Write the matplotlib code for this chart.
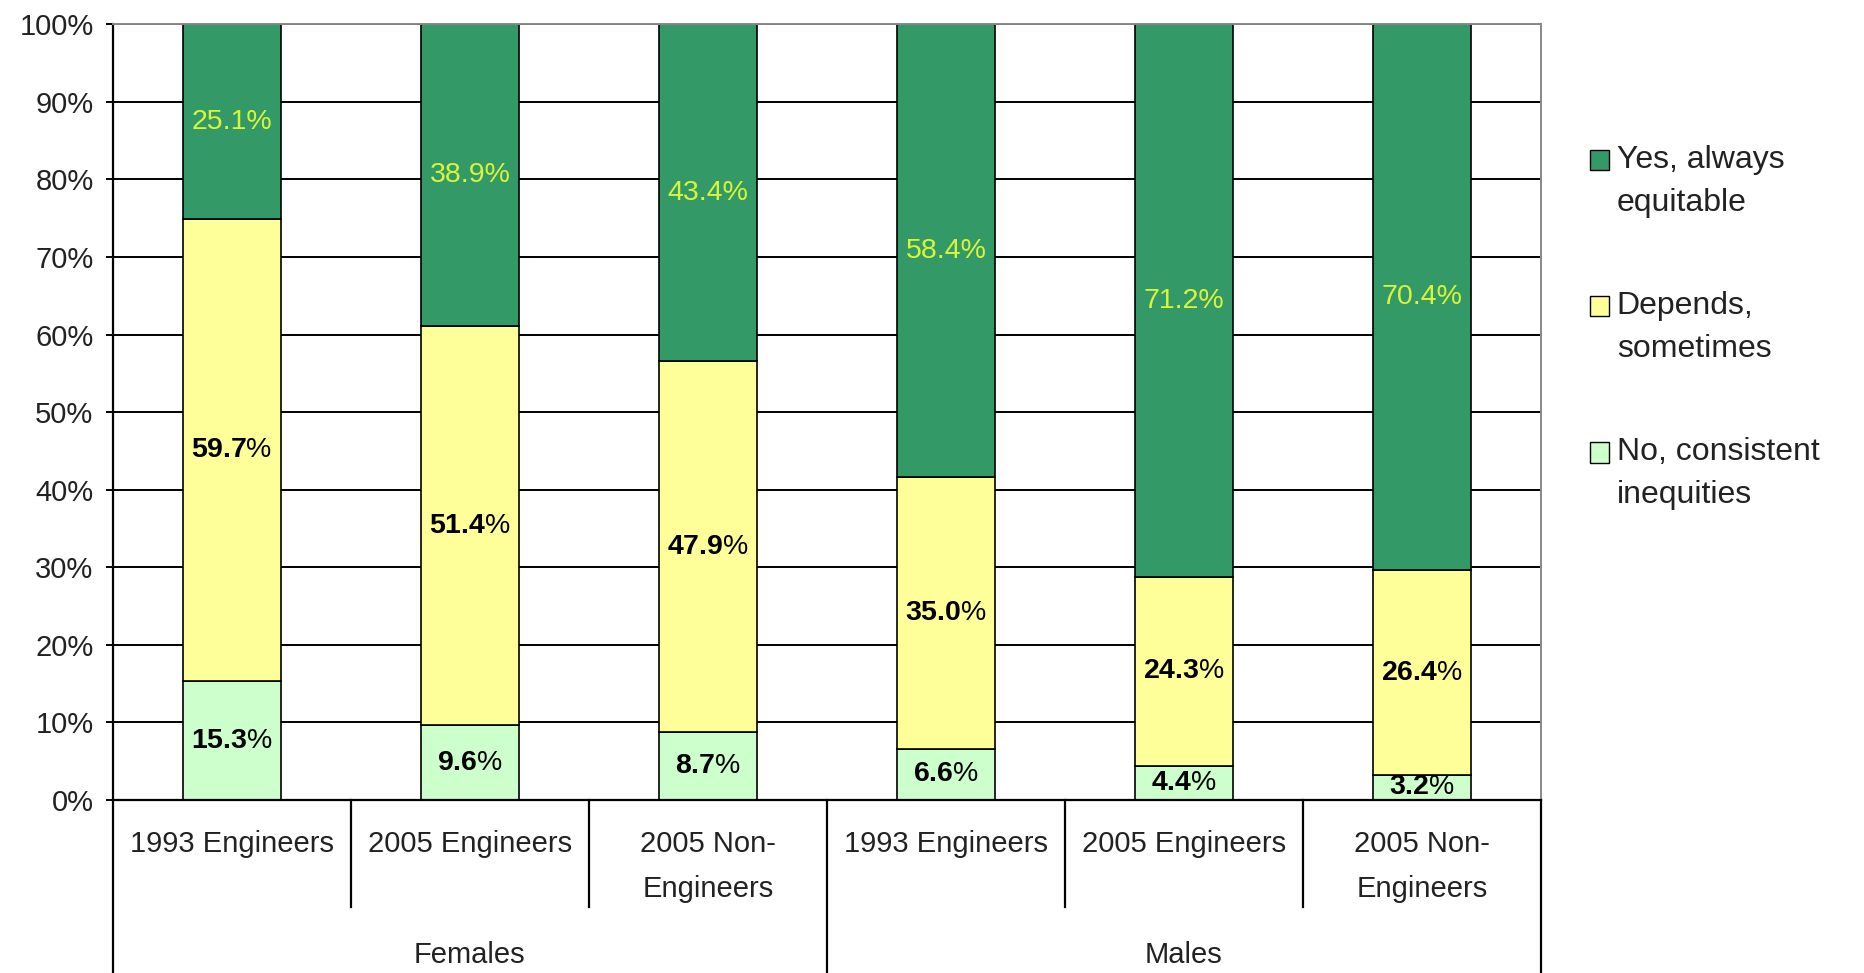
import numpy as np
import matplotlib.pyplot as plt
from matplotlib.patches import Patch, Rectangle
from matplotlib.legend_handler import HandlerPatch
from matplotlib.transforms import blended_transform_factory

plt.rcParams['font.family'] = ['Liberation Sans', 'DejaVu Sans']
plt.rcParams['mathtext.fontset'] = 'custom'
plt.rcParams['mathtext.rm'] = 'Liberation Sans'
plt.rcParams['mathtext.bf'] = 'Liberation Sans:bold'

# data
groups = ['Females', 'Males']
cats = ['1993 Engineers', '2005 Engineers', '2005 Non-\nEngineers']
no_ineq = [15.3, 9.6, 8.7, 6.6, 4.4, 3.2]
depends = [59.7, 51.4, 47.9, 35.0, 24.3, 26.4]
yes_eq = [25.1, 38.9, 43.4, 58.4, 71.2, 70.4]
series_names = ['Yes, always\nequitable', 'Depends,\nsometimes', 'No, consistent\ninequities']

c_yes = '#339966'
c_dep = '#FFFF99'
c_no = '#CCFFCC'

no_a = np.array(no_ineq)
dep_a = np.array(depends)
yes_a = np.array(yes_eq)
tot = no_a + dep_a + yes_a
# 100% stacked -> normalise
h_no = no_a / tot * 100
h_dep = dep_a / tot * 100
h_yes = yes_a / tot * 100

fig = plt.figure(figsize=(18.64, 9.73), dpi=100)
ax = fig.add_axes([0.0606, 0.178, 0.766, 0.797])

x = np.arange(len(no_ineq))
w = 0.41
ax.set_axisbelow(True)
ax.yaxis.grid(True, color='black', lw=1.4)
b1 = ax.bar(x, h_no, w, color=c_no, edgecolor='black', lw=1.2)
b2 = ax.bar(x, h_dep, w, bottom=h_no, color=c_dep, edgecolor='black', lw=1.2)
b3 = ax.bar(x, h_yes, w, bottom=h_no + h_dep, color=c_yes, edgecolor='black', lw=1.2)

# labels in the middle of each piece
fs_lab = 20.5
for i in range(len(x)):
    ax.text(x[i], h_no[i] / 2, r'$\mathbf{%.1f}$%%' % no_a[i], ha='center', va='center',
            fontsize=fs_lab, color='black')
    ax.text(x[i], h_no[i] + h_dep[i] / 2, r'$\mathbf{%.1f}$%%' % dep_a[i], ha='center',
            va='center', fontsize=fs_lab, color='black')
    ax.text(x[i], h_no[i] + h_dep[i] + h_yes[i] / 2, '%.1f%%' % yes_a[i], ha='center',
            va='center', fontsize=fs_lab, color='#D9F53A')

ax.set_xlim(-0.5, len(x) - 0.5)
ax.set_ylim(0, 100)
ax.set_yticks(np.arange(0, 101, 10))
ax.set_yticklabels(['%d%%' % v for v in range(0, 101, 10)], fontsize=21, color='#222222')
ax.tick_params(axis='y', length=5, width=1.4, color='black', pad=9)
ax.set_xticks([])
ax.spines['left'].set_linewidth(1.6)
ax.spines['bottom'].set_linewidth(1.6)
ax.spines['top'].set_color('#888888')
ax.spines['right'].set_color('#888888')
ax.spines['top'].set_linewidth(1.4)
ax.spines['right'].set_linewidth(1.4)

# two level category axis
tr = blended_transform_factory(ax.transData, ax.transAxes)
for i in range(len(x)):
    ax.text(x[i], -0.039, cats[i % 3], transform=tr, ha='center', va='top',
            fontsize=21, color='#222222', linespacing=1.75)
for k in range(len(x) + 1):
    xb = k - 0.5
    y_end = -0.23 if k % 3 == 0 else -0.138
    ax.plot([xb, xb], [0, y_end], transform=tr, color='black', lw=1.6, clip_on=False)
for g in range(len(groups)):
    ax.text(g * 3 + 1, -0.2, groups[g], transform=tr, ha='center', va='center',
            fontsize=21, color='#222222')


# legend square sits next to the first text line
def top_square(legend, orig_handle, xdescent, ydescent, width, height, fontsize):
    return Rectangle((-xdescent, -ydescent + 15.5), width, height)


handles = [Patch(facecolor=c_yes, edgecolor='black'),
           Patch(facecolor=c_dep, edgecolor='black'),
           Patch(facecolor=c_no, edgecolor='black')]
leg = fig.legend(handles, series_names, loc='upper left', bbox_to_anchor=(0.846, 0.864),
                 frameon=False, fontsize=23, handlelength=0.6, handleheight=0.6,
                 handletextpad=0.25, labelspacing=2.3, borderaxespad=0,
                 handler_map={Patch: HandlerPatch(patch_func=top_square)})
for t in leg.get_texts():
    t.set_linespacing(1.55)
    t.set_color('#222222')

fig.savefig('out.png', dpi=100)
